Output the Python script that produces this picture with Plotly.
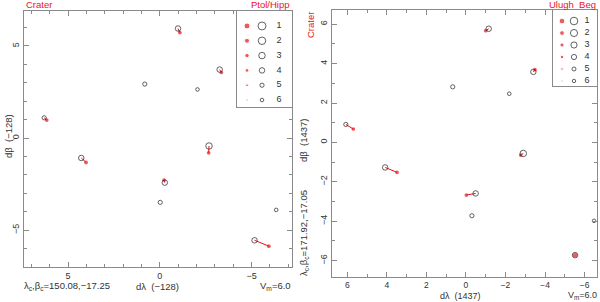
import plotly.graph_objects as go

# ---------------- data ----------------
legend_mags = [1, 2, 3, 4, 5, 6]

# Left panel: Ptolemy / Hipparchus, epoch -128
ptol_modern_dl = [-0.99, -3.26, 0.82, -2.05, 6.30, -2.68, 4.28, -0.27, -0.02, -6.34, -5.16]
ptol_modern_db = [5.95, 3.72, 2.93, 2.64, 1.10, -0.43, -1.08, -2.42, -3.49, -3.90, -5.55]
ptol_modern_mag = [4, 4, 5, 6, 5, 3, 4, 4, 5, 6, 4]
ptol_cat_dl = [-1.09, -3.35, None, None, 6.16, -2.66, 4.02, -0.23, None, None, -5.94]
ptol_cat_db = [5.73, 3.56, None, None, 0.98, -0.80, -1.32, -2.28, None, None, -5.87]
ptol_cat_mag = [4, 4, None, None, 4, 4, 4, 4, None, None, 4]

# Right panel: Ulugh Beg, epoch 1437
ub_modern_dl = [-1.15, -3.41, 0.67, -2.19, 6.08, -2.90, 4.09, -0.49, -0.30, -6.48, -5.52]
ub_modern_db = [5.77, 3.58, 2.82, 2.47, 0.91, -0.56, -1.27, -2.59, -3.72, -3.98, -5.72]
ub_modern_mag = [4, 4, 5, 6, 5, 3, 4, 4, 5, 6, 4]
ub_cat_dl = [-1.00, -3.49, None, None, 5.70, -2.77, 3.49, -0.02, None, None, -5.52]
ub_cat_db = [5.67, 3.69, None, None, 0.68, -0.64, -1.52, -2.67, None, None, -5.72]
ub_cat_mag = [4, 4, None, None, 4, 4, 4, 4, None, None, 3]

# ---------------- style ----------------
W, H = 600, 302
RED = "#e8141c"
OPEN = "#222222"
AX = "#8a8a8a"
TXT = "#333333"
FONT = "Liberation Sans"
open_size = {1: 8, 2: 7.5, 3: 6.5, 4: 5.5, 5: 4.2, 6: 3.6}
red_size = {1: 6, 2: 5, 3: 4.4, 4: 3.7, 5: 2.7, 6: 2.0}


def px(x):
    return x / W


def py(y):
    return 1 - y / H


fig = go.Figure()


def add_panel(xa, ya, mdl, mdb, mmag, cdl, cdb, cmag):
    lx, ly = [], []
    for a, b, c, d in zip(mdl, mdb, cdl, cdb):
        if c is None:
            continue
        lx += [a, c, None]
        ly += [b, d, None]
    fig.add_trace(go.Scatter(x=lx, y=ly, mode="lines", xaxis=xa, yaxis=ya,
                             line=dict(color=RED, width=1), showlegend=False,
                             hoverinfo="skip"))
    cx = [c for c in cdl if c is not None]
    cy = [d for c, d in zip(cdl, cdb) if c is not None]
    cs = [red_size[m] for c, m in zip(cdl, cmag) if c is not None]
    fig.add_trace(go.Scatter(x=cx, y=cy, mode="markers", xaxis=xa, yaxis=ya,
                             marker=dict(color=RED, size=cs, line=dict(width=0)),
                             showlegend=False))
    fig.add_trace(go.Scatter(x=mdl, y=mdb, mode="markers", xaxis=xa, yaxis=ya,
                             marker=dict(symbol="circle-open", color=OPEN,
                                         size=[open_size[m] for m in mmag],
                                         line=dict(width=1, color=OPEN)),
                             showlegend=False))


add_panel("x", "y", ptol_modern_dl, ptol_modern_db, ptol_modern_mag,
          ptol_cat_dl, ptol_cat_db, ptol_cat_mag)
add_panel("x2", "y2", ub_modern_dl, ub_modern_db, ub_modern_mag,
          ub_cat_dl, ub_cat_db, ub_cat_mag)


def add_legend(xa, ya, xr, xo, xn, scale):
    n = len(legend_mags)
    fig.add_trace(go.Scatter(x=[xr] * n, y=legend_mags, mode="markers", xaxis=xa, yaxis=ya,
                             marker=dict(color=RED, size=[red_size[m] * scale for m in legend_mags]),
                             showlegend=False))
    fig.add_trace(go.Scatter(x=[xo] * n, y=legend_mags, mode="markers", xaxis=xa, yaxis=ya,
                             marker=dict(symbol="circle-open", color=OPEN,
                                         size=[open_size[m] * scale for m in legend_mags],
                                         line=dict(width=1, color=OPEN)),
                             showlegend=False))
    fig.add_trace(go.Scatter(x=[xn] * n, y=legend_mags, mode="text", xaxis=xa, yaxis=ya,
                             text=[str(m) for m in legend_mags],
                             textfont=dict(family=FONT, size=9, color="#333"),
                             showlegend=False))


add_legend("x3", "y3", 10, 25, 42, 1.0)
add_legend("x4", "y4", 9, 21, 34, 0.95)

common = dict(showgrid=False, zeroline=False, showline=True, mirror="ticks",
              linecolor=AX, linewidth=1.3, ticks="inside", ticklen=5, tickcolor=AX,
              tickfont=dict(family=FONT, size=9, color=TXT))
minor = dict(dtick=1, ticks="inside", ticklen=3, tickcolor=AX)
box = dict(showgrid=False, zeroline=False, showticklabels=False, ticks="",
           showline=True, mirror=True, linecolor=AX, linewidth=1.3)
common2 = dict(common)
common2["tickfont"] = dict(family=FONT, size=8.5, color=TXT)

fig.update_layout(
    width=W, height=H, margin=dict(l=0, r=0, t=0, b=0),
    paper_bgcolor="white", plot_bgcolor="white",
    xaxis=dict(domain=[px(24), px(292)], range=[7.4, -7.2], anchor="y", dtick=5,
               minor=minor, **common),
    yaxis=dict(domain=[py(267), py(11)], range=[-7.0, 6.9], anchor="x", dtick=5,
               tickangle=-90, minor=minor, **common),
    xaxis2=dict(domain=[px(332), px(597)], range=[6.78, -6.63], anchor="y2", dtick=2,
                minor=minor, **common2),
    yaxis2=dict(domain=[py(277), py(10)], range=[-6.83, 6.72], anchor="x2", dtick=2,
                tickangle=-90, minor=minor, **common),
    xaxis3=dict(domain=[px(237), px(292)], range=[0, 55], anchor="y3", **box),
    yaxis3=dict(domain=[py(107), py(11)], range=[6.47, -0.01], anchor="x3", **box),
    xaxis4=dict(domain=[px(553), px(597)], range=[0, 44], anchor="y4", **box),
    yaxis4=dict(domain=[py(86), py(10)], range=[6.42, 0.08], anchor="x4", **box),
)

ann = []


def A(text, x, y, xanchor="center", yanchor="middle", color=TXT, angle=0, size=9.5):
    ann.append(dict(text=text, x=px(x), y=py(y), xref="paper", yref="paper",
                    xanchor=xanchor, yanchor=yanchor, showarrow=False, textangle=angle,
                    font=dict(family=FONT, size=size, color=color)))


A("Crater", 24, 5, xanchor="left", color=RED)
A("Ptol/Hipp", 292, 5, xanchor="right", color=RED)
A("dβ  (−128)", 8, 136, angle=-90)
A("λ<sub>c</sub>,β<sub>c</sub>=150.08,−17.25", 22, 286, xanchor="left")
A("dλ  (−128)", 158, 286)
A("V<sub>m</sub>=6.0", 293, 286, xanchor="right")

A("Ulugh  Beg", 598, 5, xanchor="right", color=RED)
A("Crater", 311, 10, yanchor="top", color=RED, angle=-90)
A("dβ  (1437)", 304, 140, angle=-90)
A("λ<sub>c</sub>,β<sub>c</sub>=171.92,−17.05", 304, 278, yanchor="bottom", angle=-90)
A("dλ  (1437)", 460, 303, yanchor="bottom", size=9)
A("V<sub>m</sub>=6.0", 599, 303, xanchor="right", yanchor="bottom", size=9)

fig.update_layout(annotations=ann)
fig.write_html("out.html", config={"displayModeBar": False},
               post_script="document.body.style.margin='0';document.body.style.overflow='hidden';")
